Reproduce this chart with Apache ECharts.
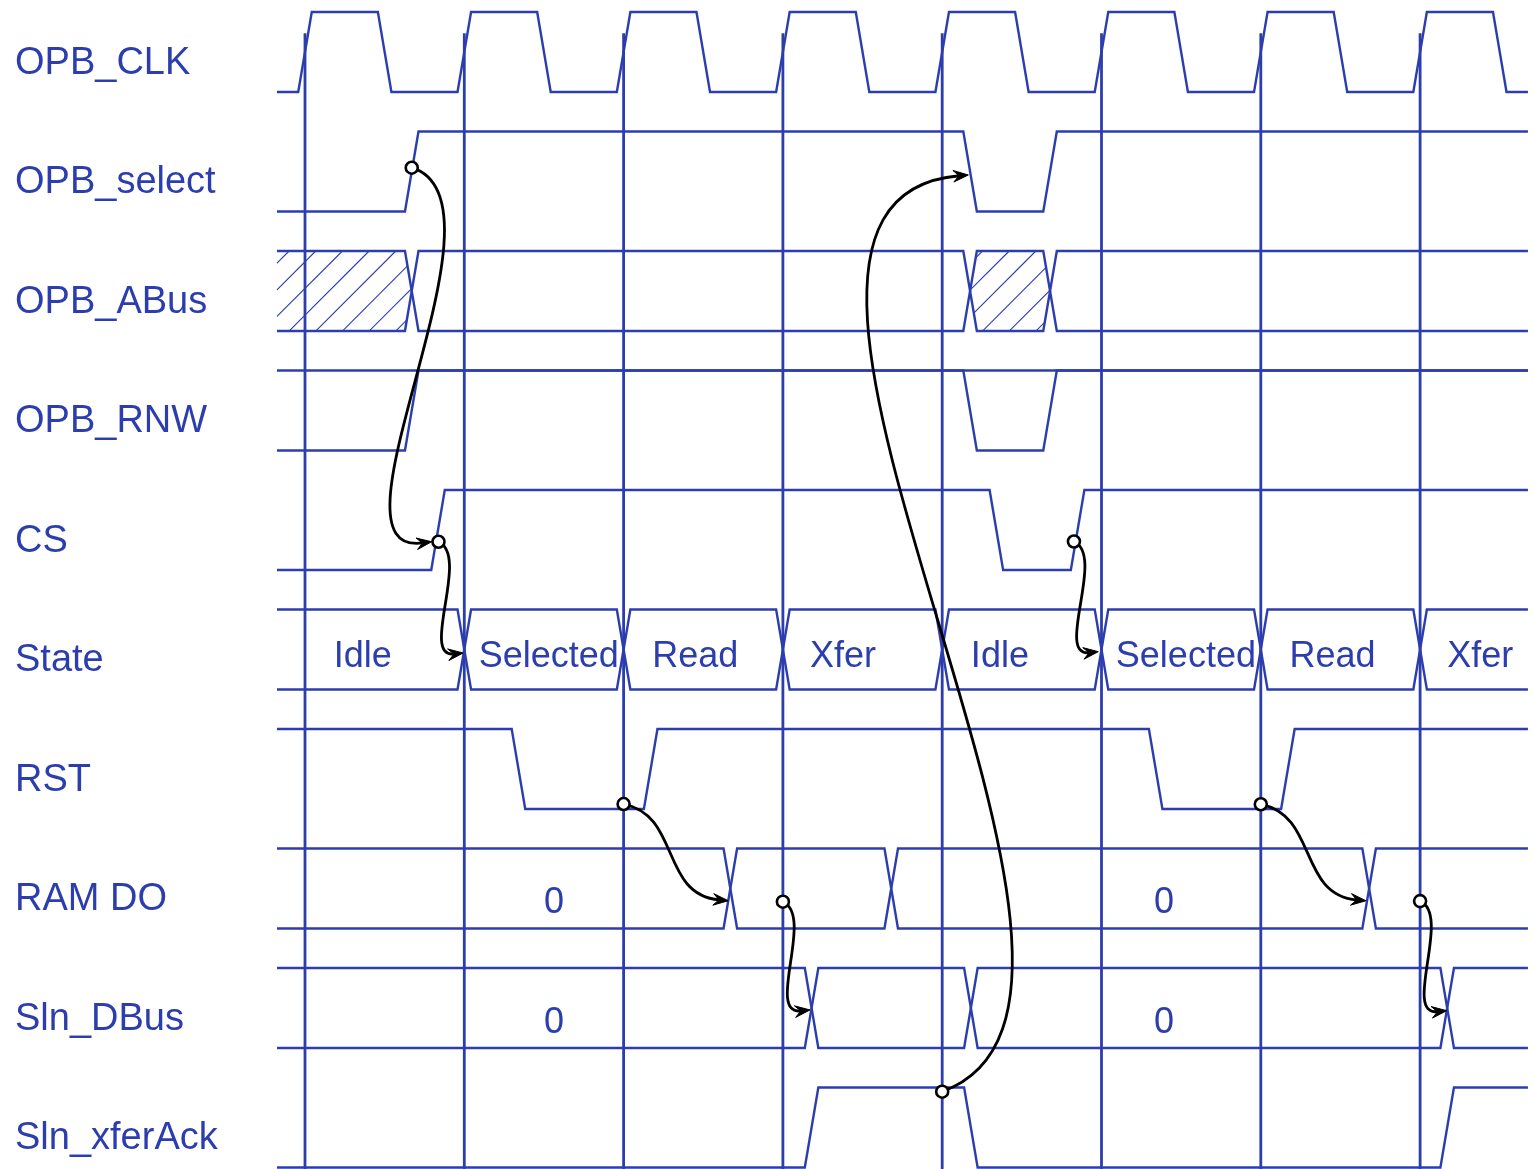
<!DOCTYPE html>
<html>
<head>
<meta charset="utf-8">
<script src="https://cdn.jsdelivr.net/npm/echarts@6/dist/echarts.min.js"></script>
<style>
html,body{margin:0;padding:0;background:#ffffff;}
#chart{width:1534px;height:1169px;}
</style>
</head>
<body>
<div id="chart"></div>
<script>
// ---------------- data ----------------
const signalNames = ['OPB_CLK','OPB_select','OPB_ABus','OPB_RNW','CS','State','RST','RAM DO','Sln_DBus','Sln_xferAck'];
const cycleTicks = [0,1,2,3,4,5,6,7];

// digital signals: transition times (clock cycles)
const clkEdges = [0,0.5,1,1.5,2,2.5,3,3.5,4,4.5,5,5.5,6,6.5,7,7.5];
const selectEdges = [0.67,4.175,4.677];
const rnwEdges = [0.67,4.175,4.677];
const csEdges = [0.835,4.34,4.85];
const rstEdges = [1.34,2.17,5.34,6.17];
const xferAckEdges = [3.18,4.18,7.17];

// bus signals
const abusEdges = [0.67,4.175,4.677];
const abusHatched = [true,false,true,false];
const stateEdges = [1,2,3,4,5,6,7];
const stateLabels = ['Idle','Selected','Read','Xfer','Idle','Selected','Read','Xfer'];
const stateLabelT = [0.18,1.09,2.18,3.17,4.18,5.09,6.18,7.17];
const ramEdges = [2.67,3.68,6.68];
const dbusEdges = [3.18,4.18,7.17];
const valueLabels = ['0','0'];
const valueLabelT = [1.563,5.392];

// causality arrows: [time, row+level] start (circle) and end (arrow tip)
const arrowFrom = [[0.670,1.303],[0.838,4.433],[2.0,6.628],[3.0,7.445],[4.0,9.035],[4.827,4.431],[6.0,6.630],[7.0,7.44]];
const arrowTo   = [[0.795,4.433],[0.993,5.364],[2.657,7.437],[3.170,8.351],[4.164,1.364],[4.980,5.353],[6.660,7.437],[7.167,8.357]];

// ---------------- style / layout ----------------
const BLUE = '#2c3eae';
const FONT = "'Liberation Sans', Arial, Helvetica, sans-serif";
const TW = 0.085;              // transition width (cycles)
const T_LEFT = -0.176, T_RIGHT = 7.677;
const LOW = 0.67;              // low level offset within a row
const X_MIN = -305/159.3, X_MAX = (1534-305)/159.3;
const Y_MIN = -12/119.5, Y_MAX = (1169-12)/119.5;
const GRID_TOP_V = 0.178;
const HATCH_SP = 26.67, HATCH_PHASE = 6.7;
const WAVE_W = 2.4;
// bezier bends (pixel control offsets) per arrow
const arrowBend = [
  [[109,33],[-118,16]], [[32,14],[-44,5]], [[57,11],[-68,-6]], [[32,14],[-45,5]],
  [[252,-91],[-305,25]], [[32,14],[-44,5]], [[57,11],[-68,-6]], [[32,14],[-45,5]]
];

const bitSignals = [
  {row:0, init:0, edges:clkEdges},
  {row:1, init:0, edges:selectEdges},
  {row:3, init:0, edges:rnwEdges, alsoHigh:true},
  {row:4, init:0, edges:csEdges},
  {row:6, init:1, edges:rstEdges},
  {row:9, init:0, edges:xferAckEdges}
];
const busSignals = [
  {row:2, edges:abusEdges},
  {row:5, edges:stateEdges},
  {row:7, edges:ramEdges},
  {row:8, edges:dbusEdges}
];

function wavePoints(api,row,init,edges){
  const y = l => row + (l ? 0 : LOW);
  let lvl = init;
  const pts = [api.coord([T_LEFT, y(lvl)])];
  edges.forEach(e => {
    pts.push(api.coord([e - TW/2, y(lvl)]));
    lvl = 1 - lvl;
    pts.push(api.coord([e + TW/2, y(lvl)]));
  });
  pts.push(api.coord([T_RIGHT, y(lvl)]));
  return pts;
}

function clipLine(A,B,poly){
  let cx=0, cy=0;
  poly.forEach(p=>{cx+=p[0];cy+=p[1];});
  cx/=poly.length; cy/=poly.length;
  let u0=0,u1=1;
  const dx=B[0]-A[0], dy=B[1]-A[1];
  for(let i=0;i<poly.length;i++){
    const E=poly[i], F=poly[(i+1)%poly.length];
    let nx=-(F[1]-E[1]), ny=F[0]-E[0];
    if(nx*(cx-E[0])+ny*(cy-E[1])<0){nx=-nx;ny=-ny;}
    const num = nx*(A[0]-E[0])+ny*(A[1]-E[1]);
    const den = nx*dx+ny*dy;
    if(Math.abs(den)<1e-9){ if(num<0) return null; continue; }
    const u = -num/den;
    if(den>0) u0=Math.max(u0,u); else u1=Math.min(u1,u);
    if(u0>u1) return null;
  }
  return [[A[0]+u0*dx,A[1]+u0*dy],[A[0]+u1*dx,A[1]+u1*dy]];
}

function hatchPolygon(api,row,tStart,tEnd,openLeft,openRight){
  const hi=row, lo=row+LOW, mid=row+LOW/2;
  const pts=[];
  if(openLeft){ pts.push(api.coord([tStart,hi])); }
  else { pts.push(api.coord([tStart,mid])); pts.push(api.coord([tStart+TW/2,hi])); }
  if(openRight){ pts.push(api.coord([tEnd,hi])); pts.push(api.coord([tEnd,lo])); }
  else { pts.push(api.coord([tEnd-TW/2,hi])); pts.push(api.coord([tEnd,mid])); pts.push(api.coord([tEnd-TW/2,lo])); }
  if(openLeft){ pts.push(api.coord([tStart,lo])); }
  else { pts.push(api.coord([tStart+TW/2,lo])); }
  return pts;
}

const chart = echarts.init(document.getElementById('chart'), null, {renderer:'canvas'});

const option = {
  animation:false,
  backgroundColor:'#ffffff',
  grid:{left:0,right:0,top:0,bottom:0},
  xAxis:{type:'value',min:X_MIN,max:X_MAX,show:false},
  yAxis:{type:'value',min:Y_MIN,max:Y_MAX,inverse:true,show:false},
  series:[
    { // vertical cycle lines
      type:'custom', z:1, clip:false,
      data:cycleTicks.map(t=>[t,GRID_TOP_V]),
      renderItem:(params,api)=>{
        const t=cycleTicks[params.dataIndex];
        const a=api.coord([t,GRID_TOP_V]), b=api.coord([t,Y_MAX]);
        return {type:'line',shape:{x1:a[0],y1:a[1],x2:b[0],y2:b[1]},style:{stroke:BLUE,lineWidth:2.8}};
      }
    },
    { // digital signals
      type:'custom', z:2, clip:false,
      data:bitSignals.map(s=>[0,s.row]),
      renderItem:(params,api)=>{
        const s=bitSignals[params.dataIndex];
        const children=[{type:'polyline',shape:{points:wavePoints(api,s.row,s.init,s.edges)},style:{stroke:BLUE,lineWidth:WAVE_W,fill:null}}];
        if(s.alsoHigh){
          const a=api.coord([T_LEFT,s.row]), b=api.coord([T_RIGHT,s.row]);
          children.push({type:'line',shape:{x1:a[0],y1:a[1],x2:b[0],y2:b[1]},style:{stroke:BLUE,lineWidth:WAVE_W}});
        }
        return {type:'group',children};
      }
    },
    { // bus signals
      type:'custom', z:2, clip:false,
      data:busSignals.map(s=>[0,s.row]),
      renderItem:(params,api)=>{
        const s=busSignals[params.dataIndex];
        return {type:'group',children:[
          {type:'polyline',shape:{points:wavePoints(api,s.row,1,s.edges)},style:{stroke:BLUE,lineWidth:WAVE_W,fill:null}},
          {type:'polyline',shape:{points:wavePoints(api,s.row,0,s.edges)},style:{stroke:BLUE,lineWidth:WAVE_W,fill:null}}
        ]};
      }
    },
    { // hatched (undefined) regions of OPB_ABus
      type:'custom', z:2, clip:false,
      data:abusHatched.map((h,i)=>[i===0?T_LEFT:abusEdges[i-1],2]),
      renderItem:(params,api)=>{
        const i=params.dataIndex;
        if(!abusHatched[i]) return {type:'group',children:[]};
        const tS = i===0?T_LEFT:abusEdges[i-1];
        const tE = i===abusEdges.length?T_RIGHT:abusEdges[i];
        const poly = hatchPolygon(api,2,tS,tE,i===0,i===abusEdges.length);
        let cMin=Infinity,cMax=-Infinity,xMin=Infinity,xMax=-Infinity;
        poly.forEach(p=>{const c=p[0]+p[1];cMin=Math.min(cMin,c);cMax=Math.max(cMax,c);xMin=Math.min(xMin,p[0]);xMax=Math.max(xMax,p[0]);});
        const children=[];
        for(let k=Math.ceil((cMin-HATCH_PHASE)/HATCH_SP);k*HATCH_SP+HATCH_PHASE<=cMax;k++){
          const c=k*HATCH_SP+HATCH_PHASE;
          const A=[xMin-5,c-(xMin-5)], B=[xMax+5,c-(xMax+5)];
          const seg=clipLine(A,B,poly);
          if(seg) children.push({type:'line',shape:{x1:seg[0][0],y1:seg[0][1],x2:seg[1][0],y2:seg[1][1]},style:{stroke:BLUE,lineWidth:1.1}});
        }
        return {type:'group',children};
      }
    },
    { // signal names
      type:'custom', z:3, clip:false,
      data:signalNames.map((n,i)=>[T_LEFT,i+0.43]),
      renderItem:(params,api)=>{
        const i=params.dataIndex;
        const p=api.coord([T_LEFT,i+0.43]);
        return {type:'text',x:15,y:p[1],style:{text:signalNames[i],fill:BLUE,fontSize:38,fontFamily:FONT,align:'left',verticalAlign:'middle'}};
      }
    },
    { // state labels
      type:'custom', z:3, clip:false,
      data:stateLabelT.map(t=>[t,5.395]),
      renderItem:(params,api)=>{
        const i=params.dataIndex;
        const p=api.coord([stateLabelT[i],5.395]);
        return {type:'text',x:p[0],y:p[1],style:{text:stateLabels[i],fill:BLUE,fontSize:36,fontFamily:FONT,align:'left',verticalAlign:'middle'}};
      }
    },
    { // data values of RAM DO and Sln_DBus
      type:'custom', z:3, clip:false,
      data:[[valueLabelT[0],7.46],[valueLabelT[1],7.46],[valueLabelT[0],8.46],[valueLabelT[1],8.46]],
      renderItem:(params,api)=>{
        const i=params.dataIndex;
        const p=api.coord([valueLabelT[i%2], (i<2?7:8)+0.46]);
        return {type:'text',x:p[0],y:p[1],style:{text:valueLabels[i%2],fill:BLUE,fontSize:36,fontFamily:FONT,align:'center',verticalAlign:'middle'}};
      }
    },
    { // causality arrows
      type:'custom', z:5, clip:false,
      data:arrowFrom.map(p=>p.slice()),
      renderItem:(params,api)=>{
        const i=params.dataIndex;
        const P0=api.coord(arrowFrom[i]), P3=api.coord(arrowTo[i]);
        const b=arrowBend[i];
        const P1=[P0[0]+b[0][0],P0[1]+b[0][1]], P2=[P3[0]+b[1][0],P3[1]+b[1][1]];
        let dx=P3[0]-P2[0], dy=P3[1]-P2[1];
        const len=Math.hypot(dx,dy); dx/=len; dy/=len;
        const nx=-dy, ny=dx, L=15, W=5.8;
        const head=[
          [P3[0],P3[1]],
          [P3[0]-L*dx+W*nx,P3[1]-L*dy+W*ny],
          [P3[0]-0.62*L*dx,P3[1]-0.62*L*dy],
          [P3[0]-L*dx-W*nx,P3[1]-L*dy-W*ny]
        ];
        const endC=[P3[0]-0.6*L*dx,P3[1]-0.6*L*dy];
        return {type:'group',children:[
          {type:'bezierCurve',shape:{x1:P0[0],y1:P0[1],cpx1:P1[0],cpy1:P1[1],cpx2:P2[0],cpy2:P2[1],x2:endC[0],y2:endC[1]},style:{stroke:'#000',lineWidth:2.8,fill:null}},
          {type:'polygon',shape:{points:head},style:{fill:'#000',stroke:'#000',lineWidth:1}},
          {type:'circle',shape:{cx:P0[0],cy:P0[1],r:6},style:{fill:'#fff',stroke:'#000',lineWidth:2.6}}
        ]};
      }
    }
  ]
};
chart.setOption(option);
</script>
</body>
</html>
